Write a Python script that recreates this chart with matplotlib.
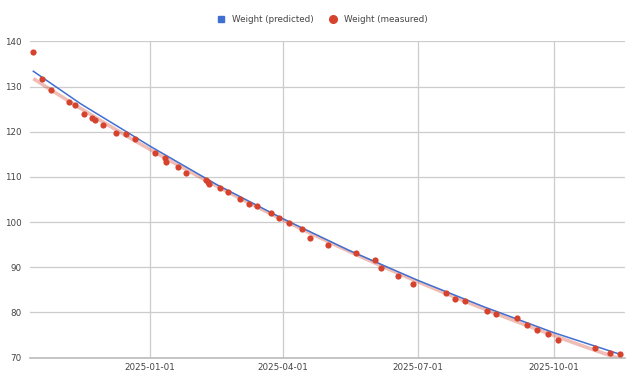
import numpy as np
import pandas as pd
import matplotlib
matplotlib.use('Agg')
import matplotlib.pyplot as plt
import matplotlib.dates as mdates
from matplotlib.lines import Line2D

# measured weights
measured_dates = ['2024-10-14', '2024-10-20', '2024-10-26', '2024-11-07', '2024-11-11',
                  '2024-11-17', '2024-11-23', '2024-11-25', '2024-11-30', '2024-12-09',
                  '2024-12-16', '2024-12-22', '2025-01-04', '2025-01-11', '2025-01-12',
                  '2025-01-20', '2025-01-25', '2025-02-08', '2025-02-09', '2025-02-10',
                  '2025-02-17', '2025-02-23', '2025-03-03', '2025-03-09', '2025-03-14',
                  '2025-03-24', '2025-03-29', '2025-04-05', '2025-04-14', '2025-04-19',
                  '2025-05-01', '2025-05-20', '2025-06-02', '2025-06-06', '2025-06-18',
                  '2025-06-28', '2025-07-20', '2025-07-26', '2025-08-02', '2025-08-17',
                  '2025-08-23', '2025-09-06', '2025-09-13', '2025-09-20', '2025-09-27',
                  '2025-10-04', '2025-10-29', '2025-11-08', '2025-11-15']
measured_weight = [137.6, 131.7, 129.3, 126.5, 125.9,
                   123.9, 123.0, 122.7, 121.5, 119.8,
                   119.5, 118.3, 115.4, 114.2, 113.4,
                   112.3, 110.9, 109.3, 108.9, 108.5,
                   107.5, 106.7, 105.0, 104.0, 103.5,
                   101.9, 100.8, 99.9, 98.4, 96.5,
                   94.9, 93.2, 91.5, 89.9, 88.1,
                   86.3, 84.3, 83.0, 82.5, 80.2,
                   79.6, 78.8, 77.2, 76.1, 75.3,
                   73.9, 72.0, 71.1, 70.8]

# predicted weights (blue line)
predicted_dates = ['2024-10-14', '2024-11-15', '2025-01-01', '2025-02-15', '2025-04-01',
                   '2025-05-15', '2025-07-01', '2025-08-15', '2025-10-01', '2025-11-15']
predicted_weight = [133.4, 126.2, 116.8, 108.3, 100.7,
                    93.8, 87.1, 81.2, 75.5, 70.7]

x_ticks = ['2025-01-01', '2025-04-01', '2025-07-01', '2025-10-01']
y_ticks = [70, 80, 90, 100, 110, 120, 130, 140]

m_dates = pd.to_datetime(measured_dates)
p_dates = pd.to_datetime(predicted_dates)

blue = '#3f6fd1'
red = '#d5432f'

fig = plt.figure(figsize=(6.4, 3.84), dpi=100)
ax = fig.add_axes([0.047, 0.069, 0.93, 0.823])

# exponential trendline of the measured series
t = mdates.date2num(m_dates)
coef = np.polyfit(t - t[0], np.log(measured_weight), 1)
t_line = np.linspace(t[0], t[-1], 200)
trend = np.exp(np.polyval(coef, t_line - t[0]))
ax.plot(mdates.num2date(t_line), trend, color=red, alpha=0.35,
        linewidth=2.6, solid_capstyle='butt', zorder=2)

ax.plot(p_dates, predicted_weight, color=blue, linewidth=1.1, zorder=3)
ax.scatter(m_dates, measured_weight, s=20, color=red, zorder=4, linewidths=0)

ax.set_ylim(70, 140)
ax.set_yticks(y_ticks)
jan1 = pd.Timestamp('2025-01-01')
ax.set_xlim(jan1 - pd.Timedelta(days=81.2), jan1 + pd.Timedelta(days=321.4))
ax.set_xticks(pd.to_datetime(x_ticks))
ax.set_xticklabels(x_ticks)

ax.grid(True, color='#cccccc', linewidth=0.9)
ax.set_axisbelow(True)
for side in ['top', 'right', 'left']:
    ax.spines[side].set_visible(False)
ax.spines['bottom'].set_color('#bbbbbb')
ax.spines['bottom'].set_linewidth(1.2)
ax.tick_params(length=0, labelsize=6.3, labelcolor='#444444', pad=4)
ax.tick_params(axis='y', pad=6)

handles = [Line2D([], [], marker='s', linestyle='none', color=blue, markersize=5),
           Line2D([], [], marker='o', linestyle='none', color=red, markersize=5.5)]
fig.legend(handles, ['Weight (predicted)', 'Weight (measured)'], loc='center',
           bbox_to_anchor=(0.5, 0.948), ncol=2, frameon=False, fontsize=6.3,
           handletextpad=0.3, columnspacing=1.2, labelcolor='#444444')

fig.savefig('out.png', dpi=100)
